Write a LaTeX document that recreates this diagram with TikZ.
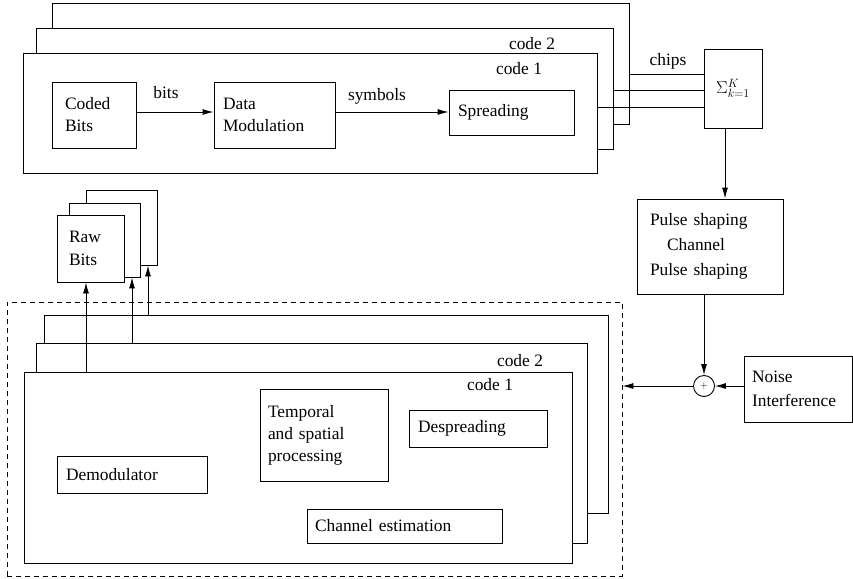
\documentclass[tikz,border=0pt]{standalone}
\usepackage{fontspec}
\setmainfont{Liberation Serif}
\usetikzlibrary{arrows.meta}
\newcommand{\fs}{\fontsize{17.4}{22}\selectfont}
\tikzset{
  frame/.style={draw, fill=white, inner sep=0pt},
  blk/.style={draw, fill=white, font=\fs, align=left, inner ysep=2pt},
  lbl/.style={font=\fs, inner sep=0pt},
}

\begin{document}
\begin{tikzpicture}[x=1pt, y=-1pt, line width=0.9pt, >={Latex[length=11pt,width=6pt]}]
  \useasboundingbox (0,0) rectangle (853,578);

  % transmitter, one layer per code
  \node[frame, minimum width=577pt, minimum height=121pt] (txc) at (340.5,63.5) {};
  \node[frame, minimum width=577pt, minimum height=121pt] (txb) at (324.5,88.5) {};
  \node[frame, minimum width=574pt, minimum height=120pt] (txa) at (310,113) {};
  \node[lbl] (codetxb) at (532,44) {code 2};
  \node[lbl] (codetxa) at (519,69) {code 1};

  \node[blk, minimum width=84pt, minimum height=66pt, text width=58pt, inner xsep=13pt] (coded) at (94,115) {Coded\\Bits};
  \node[blk, minimum width=121pt, minimum height=66pt, text width=103pt, inner xsep=9pt] (datamod) at (274.5,115) {Data\\Modulation};
  \node[blk, minimum width=125pt, minimum height=45pt, text width=107pt, inner xsep=9pt] (spread) at (511.5,112.5) {Spreading};
  \node[lbl] (lbits) at (166,93) {bits};
  \node[lbl] (lsymb) at (377,96) {symbols};
  \draw[->] ([yshift=3pt]coded.east) -- ([yshift=3pt]datamod.west);
  \coordinate (symstart) at ([yshift=3pt]datamod.east);
  \draw[->] (symstart) -- (symstart -| spread.west);

  % summation over the codes
  \node[blk, minimum width=58pt, minimum height=79pt, align=center, inner sep=0pt] (sum) at (733,88.5) {$\Sigma_{k=1}^{K}$};
  \node[lbl] (lchips) at (668,61) {chips};
  \foreach \lay/\dy in {txa/6, txb/-1.5, txc/-10.5} {
    \coordinate (chipout) at ([yshift=\dy pt]\lay.east);
    \draw (chipout) -- (chipout -| sum.west);
  }

  % channel
  \node[blk, font=\fontsize{17.4}{25}\selectfont, minimum width=146pt, minimum height=95pt, text width=120pt, inner xsep=13pt] (pulse) at (710,246.5) {Pulse shaping\\\hspace*{17pt}Channel\\Pulse shaping};
  \coordinate (sumout) at ([xshift=-8pt]sum.south);
  \draw[->] (sumout) -- (sumout |- pulse.north);

  \node[draw, circle, minimum size=21pt, inner sep=0pt, font=\fontsize{10}{10}\selectfont] (adder) at (704,386) {$+$};
  \node[blk, font=\fontsize{17.4}{24}\selectfont, minimum width=108pt, minimum height=66pt, text width=92pt, inner xsep=8pt] (noise) at (798,389) {Noise\\Interference};
  \draw[->] (pulse.south -| adder.north) -- (adder.north);
  \draw[->] (noise.west |- adder.east) -- (adder.east);

  % receiver, one layer per code
  \node[frame, minimum width=564pt, minimum height=198pt] (rxc) at (326,414) {};
  \node[frame, minimum width=551pt, minimum height=200pt] (rxb) at (311.5,443) {};
  \node[frame, minimum width=548pt, minimum height=191pt] (rxa) at (298,467.5) {};
  \node[lbl] (coderxb) at (520,361) {code 2};
  \node[lbl] (coderxa) at (490,385) {code 1};

  \node[blk, minimum width=128pt, minimum height=92pt, text width=112pt, inner xsep=8pt] (temporal) at (324,435) {Temporal\\and spatial\\processing};
  \node[blk, minimum width=138pt, minimum height=37pt, text width=120pt, inner xsep=9pt] (despread) at (478,428.5) {Despreading};
  \node[blk, minimum width=150pt, minimum height=37pt, text width=132pt, inner xsep=9pt] (demod) at (132,474.5) {Demodulator};
  \node[blk, minimum width=195pt, minimum height=34pt, text width=179pt, inner xsep=8pt] (chanest) at (404.5,526) {Channel estimation};

  \node[draw, dash pattern=on 5pt off 4pt, minimum width=615pt, minimum height=274pt] (rx) at (314.5,439) {};
  \draw[->] (adder.west) -- (adder.west -| rx.east);

  % recovered bits
  \node[frame, minimum width=71pt, minimum height=75pt] (rawc) at (121.5,227.5) {};
  \node[frame, minimum width=71pt, minimum height=74pt] (rawb) at (104.5,240) {};
  \node[blk, font=\fontsize{17.4}{23}\selectfont, minimum width=67pt, minimum height=67pt, text width=43pt, inner xsep=12pt] (rawa) at (90.5,248.5) {Raw\\Bits};
  \foreach \src/\dst/\x in {rxa/rawa/86, rxb/rawb/132, rxc/rawc/148}
    \draw[->] (\src.north -| \x,0) -- (\dst.south -| \x,0);
\end{tikzpicture}
\end{document}
